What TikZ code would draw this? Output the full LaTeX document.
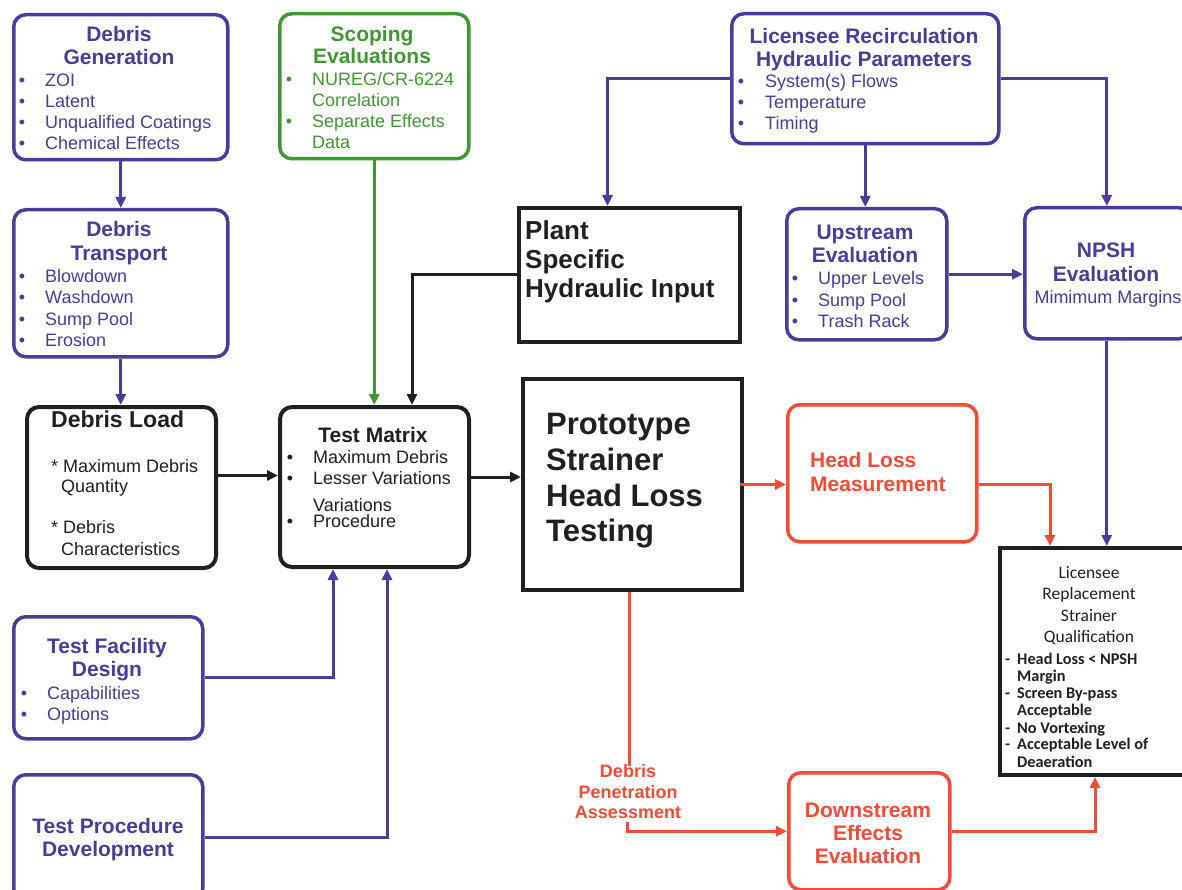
\documentclass[tikz,border=0pt]{standalone}
\usepackage{fontspec}
\setmainfont{Liberation Sans}
\newfontfamily\calfont{Carlito}
\usetikzlibrary{arrows.meta}
\definecolor{pu}{RGB}{76,58,156}
\definecolor{gr}{RGB}{66,150,52}
\definecolor{rd}{RGB}{244,74,54}
\definecolor{bk}{RGB}{32,32,32}

\tikzset{
  rbox/.style={draw=#1, line width=3.5pt, rounded corners=12pt, inner sep=0pt,
    anchor=north west, fill=white},
  sbox/.style={draw=bk, line width=4pt, inner sep=0pt, anchor=north west, fill=white},
  conn/.style={line width=3pt, -{Triangle[length=11pt,width=10pt]}},
  plain/.style={line width=3pt},
  ttl/.style={font=\fontsize{21}{25}\selectfont\bfseries, anchor=base, inner sep=0pt},
  itm/.style={font=\fontsize{18}{21}\selectfont, anchor=base west, inner sep=0pt},
  bul/.style={font=\fontsize{18}{21}\selectfont, anchor=base, inner sep=0pt},
  lqitem/.style={anchor=base west, inner sep=0pt, font=\calfont\fontsize{16.3}{18}\selectfont\bfseries},
}

% bullet list: bullet x, text x, first baseline, line step, items, name prefix
\newcommand\blist[6]{%
  \foreach \t [count=\i from 0] in {#5}{%
    \node[bul] (#6-b\i) at (#1,{#3+#4*\i}) {\textbullet};
    \node[itm] (#6-\i) at (#2,{#3+#4*\i}) {\t};
  }}

\begin{document}
\begin{tikzpicture}[x=1pt,y=-1pt]
\useasboundingbox (0,0) rectangle (1182,890);
\fill[white] (0,0) rectangle (1182,890);

% ---------- boxes ----------
\node[rbox=pu, minimum width=214pt, minimum height=145pt] (gen) at (12,13) {};
\node[rbox=pu, minimum width=214pt, minimum height=147pt] (trans) at (12,208) {};
\node[rbox=gr, minimum width=189pt, minimum height=145pt] (scope) at (278,12) {};
\node[rbox=pu, minimum width=267pt, minimum height=130pt] (lic) at (730,12) {};
\node[sbox, minimum width=221pt, minimum height=134pt] (plant) at (517,206) {};
\node[rbox=pu, minimum width=160pt, minimum height=131pt] (up) at (785,207) {};
\node[rbox=pu, minimum width=166pt, minimum height=131pt] (npsh) at (1023,206) {};
\node[rbox=bk, line width=4pt, minimum width=189pt, minimum height=161pt] (load) at (25,405) {};
\node[rbox=bk, line width=4pt, minimum width=189pt, minimum height=160pt] (tm) at (278,405) {};
\node[sbox, minimum width=219pt, minimum height=211pt] (proto) at (521,377) {};
\node[rbox=rd, minimum width=189pt, minimum height=137pt] (hl) at (786,403) {};
\node[sbox, minimum width=192pt, minimum height=227pt] (lrsq) at (998,546) {};
\node[rbox=pu, minimum width=189pt, minimum height=122pt] (tfd) at (12,615) {};
\node[rbox=pu, minimum width=189pt, minimum height=126pt] (tpd) at (12,773) {};
\node[rbox=rd, minimum width=161pt, minimum height=117pt] (ds) at (787,771) {};

% ---------- connectors ----------
\draw[conn, pu] (gen.south) -- (trans.north);
\draw[conn, pu] (trans.south) -- (trans.south |- load.north);
\draw[conn, gr] (scope.south) -- (scope.south |- tm.north);
\draw[conn, bk] (plant.west) -| ([xshift=134pt]tm.north west);
\draw[conn, pu] (lic.west) -| ([xshift=-22pt]plant.north);
\draw[conn, pu] (lic.south) -- (lic.south |- up.north);
\draw[conn, pu] (lic.east) -| ([xshift=-1pt]npsh.north);
\draw[conn, pu] (up.east) -- (up.east -| npsh.west);
\draw[conn, pu] ([xshift=-1pt]npsh.south) -- ([xshift=-1pt]npsh.south |- lrsq.north);
\draw[conn, bk] ([yshift=12pt]load.east) -- ([yshift=12pt]load.east -| tm.west);
\draw[conn, bk] ([yshift=10pt]tm.east) -- ([yshift=10pt]tm.east -| proto.west);
\draw[conn, rd] ([xshift=-4pt]proto.east) -- (proto.east -| hl.west);
\draw[conn, rd] ([yshift=-11pt]hl.east) -| ([xshift=52pt]lrsq.north west);
\draw[conn, pu] (tfd.east) -| ([xshift=55pt]tm.south west);
\draw[conn, pu] (tpd.east) -| ([xshift=109pt]tm.south west);
\draw[plain, rd] ([xshift=-3pt]proto.south) -- ++(0,174);
\draw[conn, rd] (627,822) |- (ds.west);
\draw[conn, rd] (ds.east) -| ([xshift=-1pt]lrsq.south);

% ---------- Debris Generation ----------
\begin{scope}[pu]
\node[ttl] (gen-t1) at (119,42) {Debris};
\node[ttl] (gen-t2) at (119,65) {Generation};
\blist{22}{45}{87}{21}{ZOI,Latent,Unqualified Coatings,Chemical Effects}{gen}
% ---------- Debris Transport ----------
\node[ttl] (tr-t1) at (119,237) {Debris};
\node[ttl] (tr-t2) at (119,261) {Transport};
\blist{22}{45}{283}{21}{Blowdown,Washdown,Sump Pool,Erosion}{tr}
% ---------- Licensee Recirculation ----------
\node[ttl] (lic-t1) at (864,44) {Licensee Recirculation};
\node[ttl] (lic-t2) at (864,67) {Hydraulic Parameters};
\blist{741}{765}{88}{21}{System(s) Flows,Temperature,Timing}{lic}
% ---------- Upstream Evaluation ----------
\node[ttl] (up-t1) at (865,240) {Upstream};
\node[ttl] (up-t2) at (865,263) {Evaluation};
\blist{795}{818}{285}{21}{Upper Levels,Sump Pool,Trash Rack}{up}
% ---------- NPSH Evaluation ----------
\node[ttl] (np-t1) at (1106,258) {NPSH};
\node[ttl] (np-t2) at (1106,282) {Evaluation};
\node[bul] (np-t3) at (1108,303) {Mimimum Margins};
% ---------- Test Facility Design ----------
\node[ttl] (tf-t1) at (107,653) {Test Facility};
\node[ttl] (tf-t2) at (107,676) {Design};
\blist{24}{47}{699}{21}{Capabilities,Options}{tf}
% ---------- Test Procedure Development ----------
\node[ttl] (tp-t1) at (108,833) {Test Procedure};
\node[ttl] (tp-t2) at (108,856) {Development};
\end{scope}

% ---------- Scoping Evaluations ----------
\begin{scope}[gr]
\node[ttl] (sc-t1) at (372,42) {Scoping};
\node[ttl] (sc-t2) at (372,64) {Evaluations};
\node[bul] (sc-b0) at (289,86) {\textbullet};
\node[itm] (sc-0) at (312,86) {NUREG/CR-6224};
\node[itm] (sc-1) at (312,107) {Correlation};
\node[bul] (sc-b2) at (289,128) {\textbullet};
\node[itm] (sc-2) at (312,128) {Separate Effects};
\node[itm] (sc-3) at (312,149) {Data};
\end{scope}

% ---------- black boxes ----------
\begin{scope}[bk]
\foreach \t/\y [count=\i] in {Plant/240,Specific/269,Hydraulic Input/298}
  \node[anchor=base west, inner sep=0pt, font=\fontsize{26}{30}\selectfont\bfseries]
    (pl-\i) at (525,\y) {\t};
\node[anchor=base west, inner sep=0pt, font=\fontsize{23}{27}\selectfont\bfseries]
  (ld-t) at (51,427) {Debris Load};
\node[itm] (ld-a1) at (51,472) {*};
\node[itm] (ld-1) at (63,472) {Maximum Debris};
\node[itm] (ld-2) at (61,492) {Quantity};
\node[itm] (ld-a3) at (51,533) {*};
\node[itm] (ld-3) at (63,533) {Debris};
\node[itm] (ld-4) at (61,555) {Characteristics};
\node[ttl] (tm-t) at (373,442) {Test Matrix};
\node[bul] (tm-b0) at (290,463) {\textbullet};
\node[itm] (tm-0) at (313,463) {Maximum Debris};
\node[bul] (tm-b1) at (290,484) {\textbullet};
\node[itm] (tm-1) at (313,484) {Lesser Variations};
\node[itm] (tm-2) at (313,511) {Variations};
\node[bul] (tm-b3) at (290,527) {\textbullet};
\node[itm] (tm-3) at (313,527) {Procedure};
\foreach \t/\y [count=\i] in {Prototype/434,Strainer/470,Head Loss/506,Testing/541}
  \node[anchor=base west, inner sep=0pt, font=\fontsize{31}{36}\selectfont\bfseries]
    (pr-\i) at (546,\y) {\t};
% Licensee Replacement Strainer Qualification
\foreach \t/\y [count=\i] in {Licensee/578,Replacement/599,Strainer/621,Qualification/642}
  \node[anchor=base, inner sep=0pt, font=\calfont\fontsize{17.5}{20}\selectfont]
    (lq-t\i) at (1089,\y) {\t};
\foreach \d/\t/\y [count=\i] in {-/Head Loss < NPSH/664, /Margin/681, -/Screen By-pass/698,
    /Acceptable/715, -/No Vortexing/733, -/Acceptable Level of/749, /Deaeration/767}{
  \node[lqitem] (lq-d\i) at (1005,\y) {\d};
  \node[lqitem] (lq-\i) at (1017,\y) {\t};
}
\end{scope}

% ---------- red texts ----------
\begin{scope}[rd]
\node[anchor=base west, inner sep=0pt, font=\fontsize{21}{25}\selectfont\bfseries]
  (hl-t1) at (810,467) {Head Loss};
\node[anchor=base west, inner sep=0pt, font=\fontsize{21}{25}\selectfont\bfseries]
  (hl-t2) at (810,491) {Measurement};
\foreach \t/\y [count=\i] in {Debris/777,Penetration/798,Assessment/818}
  \node[anchor=base, inner sep=0pt, font=\fontsize{18}{21}\selectfont\bfseries]
    (dp-\i) at (628,\y) {\t};
\foreach \t/\y [count=\i] in {Downstream/817,Effects/840,Evaluation/863}
  \node[ttl] (ds-\i) at (868,\y) {\t};
\end{scope}
\end{tikzpicture}
\end{document}
